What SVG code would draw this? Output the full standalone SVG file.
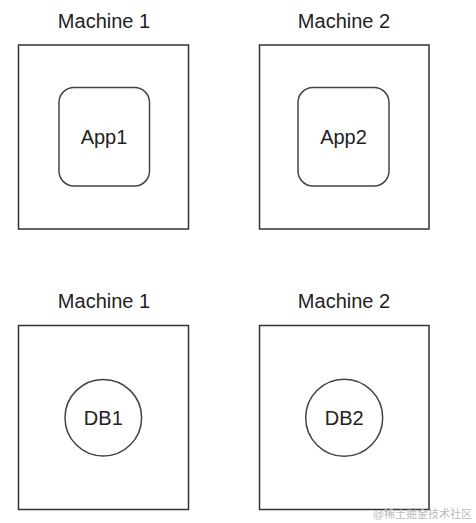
<svg xmlns="http://www.w3.org/2000/svg" width="476" height="523" viewBox="0 0 476 523">
<style>
.box{fill:#fff;stroke:#333;stroke-width:1.5}
.inner{fill:#fff;stroke:#444;stroke-width:1.5}
.lbl{font-family:"Liberation Sans",Arial,sans-serif;font-size:20px;fill:#222;text-anchor:middle}
.wm{font-family:"Liberation Sans","Noto Sans CJK SC",sans-serif;font-size:11px;fill:#bbb;text-anchor:end}
</style>
<rect width="476" height="523" fill="#fff"/>
<g id="machine1-top">
<text class="lbl" x="104" y="28">Machine 1</text>
<rect class="box" x="18.5" y="45" width="170" height="184"/>
</g>
<g id="app1">
<rect class="inner" x="59" y="87.5" width="90.5" height="98.5" rx="15" ry="15"/>
<text class="lbl" x="104" y="144">App1</text>
</g>
<g id="machine2-top">
<text class="lbl" x="344" y="28">Machine 2</text>
<rect class="box" x="259.5" y="45" width="169.5" height="184"/>
</g>
<g id="app2">
<rect class="inner" x="298" y="87.5" width="91" height="98.5" rx="15" ry="15"/>
<text class="lbl" x="343.5" y="144">App2</text>
</g>
<g id="machine1-bottom">
<text class="lbl" x="104" y="308">Machine 1</text>
<rect class="box" x="18.5" y="325.5" width="170" height="184"/>
</g>
<g id="db1">
<circle class="inner" cx="103.3" cy="417.7" r="38.3"/>
<text class="lbl" x="103.3" y="425">DB1</text>
</g>
<g id="machine2-bottom">
<text class="lbl" x="344" y="308">Machine 2</text>
<rect class="box" x="259.5" y="325.5" width="169.5" height="184"/>
</g>
<g id="db2">
<circle class="inner" cx="344.2" cy="417.7" r="38.5"/>
<text class="lbl" x="344.2" y="425">DB2</text>
</g>
<g id="connectors"></g>
<text class="wm" x="472" y="518">@稀土掘金技术社区</text>
</svg>
